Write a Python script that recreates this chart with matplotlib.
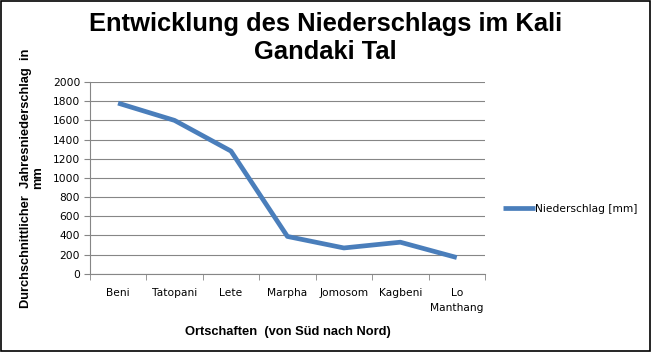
import numpy as np
import matplotlib
matplotlib.use("Agg")
import matplotlib.pyplot as plt
from matplotlib.ticker import FixedLocator

orte = ["Beni", "Tatopani", "Lete", "Marpha", "Jomosom", "Kagbeni", "Lo\nManthang"]
niederschlag = [1780, 1600, 1280, 390, 270, 330, 170]
y_ticks = list(range(0, 2001, 200))

plt.rcParams['font.family'] = ['Liberation Sans', 'DejaVu Sans']

fig = plt.figure(figsize=(6.51, 3.52), dpi=100)
ax = fig.add_axes([0.138, 0.222, 0.607, 0.545])

x = np.arange(len(orte))
ax.plot(x, niederschlag, color='#4A7EBB', linewidth=3.4, solid_capstyle='butt',
        label='Niederschlag [mm]')

ax.set_xlim(-0.5, len(orte) - 0.5)
ax.set_ylim(0, 2000)
ax.set_yticks(y_ticks)
ax.set_xticks(x)
ax.set_xticklabels(orte, fontsize=7.7, family='DejaVu Sans', linespacing=1.7)
ax.xaxis.set_minor_locator(FixedLocator(np.arange(-0.5, len(orte), 1.0)))
ax.tick_params(axis='x', which='major', length=0, pad=10)
ax.tick_params(axis='x', which='minor', length=4, color='#868686')
ax.tick_params(axis='y', length=4, color='#868686', labelsize=7.7, pad=3)
for lab in ax.get_yticklabels():
    lab.set_family('DejaVu Sans')

ax.grid(axis='y', color='#868686', linewidth=0.8)
ax.set_axisbelow(True)
for s in ['top', 'right']:
    ax.spines[s].set_visible(False)
for s in ['left', 'bottom']:
    ax.spines[s].set_color('#868686')

ax.set_ylabel('Durchschnittlicher  Jahresniederschlag  in\nmm', fontsize=9.3,
              fontweight='bold', labelpad=6, linespacing=1.0)
ax.set_xlabel('Ortschaften  (von Süd nach Nord)', fontsize=9.3, fontweight='bold',
              labelpad=9)

fig.suptitle('Entwicklung des Niederschlags im Kali\nGandaki Tal', fontsize=18.4,
             fontweight='bold', x=0.5, y=0.965, linespacing=1.2)

ax.legend(loc='center left', bbox_to_anchor=(1.02, 0.34), frameon=False,
          handlelength=3.0, handletextpad=0.05,
          prop={'family': 'DejaVu Sans', 'size': 7.7})

fig.patches.append(plt.Rectangle((0.002, 0.003), 0.996, 0.994, transform=fig.transFigure,
                                 fill=False, edgecolor='black', linewidth=1.2))

fig.savefig('out.png', dpi=100)
